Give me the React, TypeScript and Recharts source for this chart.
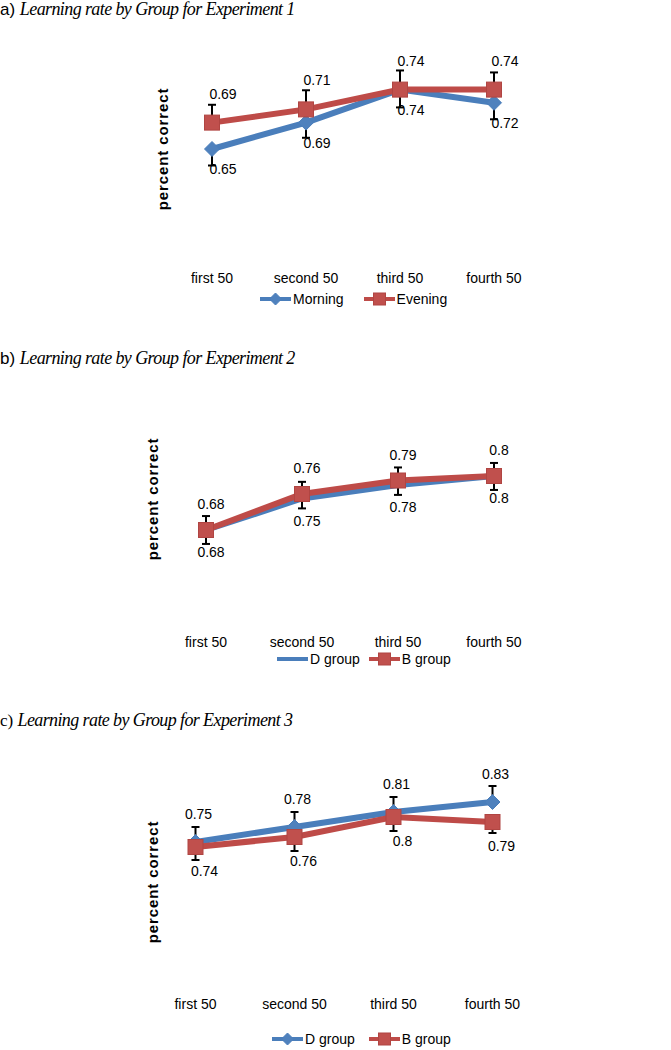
import React from 'react';
import { LineChart, Line, XAxis, YAxis, ErrorBar, LabelList, Legend } from 'recharts';

const categories = ['first 50', 'second 50', 'third 50', 'fourth 50'];

// a) Experiment 1
const exp1Morning = [0.65, 0.69, 0.74, 0.72];
const exp1MorningErr = [0.025, 0.023, 0.027, 0.025];
const exp1Evening = [0.69, 0.71, 0.74, 0.74];
const exp1EveningErr = [0.027, 0.029, 0.029, 0.026];

// b) Experiment 2
const exp2D = [0.68, 0.75, 0.78, 0.8];
const exp2DErr = [0.031, 0.022, 0.022, 0.031];
const exp2B = [0.68, 0.76, 0.79, 0.8];
const exp2BErr = [0.031, 0.027, 0.029, 0.029];

// c) Experiment 3
const exp3D = [0.75, 0.78, 0.81, 0.83];
const exp3DErr = [0.03, 0.03, 0.03, 0.032];
const exp3B = [0.74, 0.76, 0.8, 0.79];
const exp3BErr = [0.026, 0.028, 0.028, 0.022];

const SANS = '"Liberation Sans", Arial, sans-serif';
const SERIF = '"Liberation Serif", "Times New Roman", serif';
const BLUE = '#4A7EBB';
const RED = '#BE4B48';

type Marker = 'diamond' | 'square' | 'none';

interface Series {
  name: string;
  values: number[];
  errors: number[];
  errDir: 'up' | 'down';
  color: string;
  marker: Marker;
  labelDx: number;
  labelDy: number;
}

// builds the row table recharts wants from the small arrays above
const buildRows = (series: Series[]) =>
  categories.map((name, i) => {
    const row: any = { name };
    series.forEach((s, k) => {
      row['v' + k] = s.values[i];
      row['e' + k] = s.errDir === 'up' ? [0, s.errors[i]] : [s.errors[i], 0];
    });
    return row;
  });

const MarkerShape = ({ cx, cy, type, size }: { cx: number; cy: number; type: Marker; size: number }) => {
  const h = size / 2;
  if (type === 'diamond') {
    return (
      <path
        d={`M${cx},${cy - h} L${cx + h},${cy} L${cx},${cy + h} L${cx - h},${cy} Z`}
        fill="#4F81BD"
        stroke={BLUE}
        strokeWidth={1}
      />
    );
  }
  if (type === 'square') {
    return <rect x={cx - h} y={cy - h} width={size} height={size} fill="#C0504D" stroke="#B04542" strokeWidth={1} />;
  }
  return null;
};

const makeLabel = (dx: number, dy: number) => (props: any) => {
  const { x, y, value } = props;
  return (
    <text
      x={x + dx}
      y={y + dy}
      textAnchor="middle"
      dominantBaseline="central"
      fill="#000"
      fontSize={14}
      fontFamily={SANS}
    >
      {value}
    </text>
  );
};

const makeLegend = (series: Series[], gap: number) => () => (
  <div style={{ display: 'flex', alignItems: 'center', fontFamily: SANS, fontSize: 14, color: '#000' }}>
    {series.map((s) => (
      <div key={s.name} style={{ display: 'flex', alignItems: 'center', marginRight: gap }}>
        <svg width={31} height={16}>
          <line x1={0} y1={8} x2={31} y2={8} stroke={s.color} strokeWidth={4} />
          <MarkerShape cx={15.5} cy={8} type={s.marker} size={12} />
        </svg>
        <span style={{ marginLeft: 2 }}>{s.name}</span>
      </div>
    ))}
  </div>
);

interface PanelProps {
  letter: string;
  letterFont: string;
  title: string;
  titleTop: number;
  top: number;
  height: number;
  marginTop: number;
  marginBottom: number;
  plotLeft: number;
  spacing: number;
  domain: [number, number];
  tickMargin: number;
  legendTop: number;
  legendLeft: number;
  legendGap: number;
  yLabelX: number;
  yLabelY: number;
  series: Series[];
}

const Panel: React.FC<PanelProps> = (p) => {
  const rows = buildRows(p.series);
  const pad = p.spacing / 2;
  const plotWidth = p.spacing * 3 + pad * 2;
  return (
    <>
      <div
        style={{
          position: 'absolute',
          left: 0,
          top: p.titleTop,
          whiteSpace: 'nowrap',
          fontFamily: SERIF,
          fontSize: 18,
          lineHeight: '22px',
          color: '#000',
        }}
      >
        <span style={{ fontFamily: p.letterFont, fontSize: 17 }}>{p.letter} </span>
        <i style={{ letterSpacing: -0.6 }}>{p.title}</i>
      </div>
      <div
        style={{
          position: 'absolute',
          left: p.yLabelX - 70,
          top: p.yLabelY - 10,
          width: 140,
          height: 20,
          lineHeight: '20px',
          textAlign: 'center',
          transform: 'rotate(-90deg)',
          fontFamily: SANS,
          fontWeight: 'bold',
          fontSize: 15,
          letterSpacing: 0.9,
          color: '#000',
          whiteSpace: 'nowrap',
        }}
      >
        percent correct
      </div>
      <div style={{ position: 'absolute', left: 0, top: p.top }}>
        <LineChart
          width={671}
          height={p.height}
          data={rows}
          margin={{ top: p.marginTop, right: 671 - p.plotLeft - plotWidth, bottom: p.marginBottom, left: p.plotLeft }}
        >
          <XAxis
            dataKey="name"
            scale="point"
            padding={{ left: pad, right: pad }}
            height={50}
            axisLine={false}
            tickLine={false}
            interval={0}
            tickMargin={p.tickMargin}
            tick={{ fill: '#000', fontSize: 14, fontFamily: SANS }}
          />
          <YAxis hide domain={p.domain} />
          <Legend
            layout="horizontal"
            verticalAlign="middle"
            align="center"
            wrapperStyle={{ top: p.legendTop, left: p.legendLeft, width: 320 }}
            content={makeLegend(p.series, p.legendGap)}
          />
          {p.series.map((s, k) => (
            <Line
              key={s.name}
              dataKey={'v' + k}
              name={s.name}
              stroke={s.color}
              strokeWidth={6}
              isAnimationActive={false}
              dot={
                s.marker === 'none'
                  ? false
                  : (d: any) => <MarkerShape key={'m' + k + '-' + d.index} cx={d.cx} cy={d.cy} type={s.marker} size={15} />
              }
              activeDot={false}
            >
              <ErrorBar dataKey={'e' + k} direction="y" width={4} stroke="#000" strokeWidth={2} />
              <LabelList dataKey={'v' + k} content={makeLabel(s.labelDx, s.labelDy)} />
            </Line>
          ))}
        </LineChart>
      </div>
    </>
  );
};

const App: React.FC = () => {
  return (
    <div style={{ position: 'absolute', left: 0, top: 0, width: 671, height: 1050, background: '#fff', overflow: 'hidden' }}>
      <Panel
        letter="a)"
        letterFont={SANS}
        title="Learning rate by Group for Experiment 1"
        titleTop={-2}
        top={0}
        height={320}
        marginTop={50}
        marginBottom={22}
        plotLeft={165}
        spacing={94}
        domain={[0.5, 0.8]}
        tickMargin={19}
        legendTop={291}
        legendLeft={260}
        legendGap={20}
        yLabelX={163}
        yLabelY={149}
        series={[
          { name: 'Morning', values: exp1Morning, errors: exp1MorningErr, errDir: 'down', color: BLUE, marker: 'diamond', labelDx: 11, labelDy: 20 },
          { name: 'Evening', values: exp1Evening, errors: exp1EveningErr, errDir: 'up', color: RED, marker: 'square', labelDx: 11, labelDy: -29 },
        ]}
      />
      <Panel
        letter="b)"
        letterFont={SANS}
        title="Learning rate by Group for Experiment 2"
        titleTop={347}
        top={380}
        height={300}
        marginTop={51}
        marginBottom={19}
        plotLeft={158}
        spacing={96}
        domain={[0.5, 0.9]}
        tickMargin={20}
        legendTop={271}
        legendLeft={277}
        legendGap={9}
        yLabelX={153}
        yLabelY={499}
        series={[
          { name: 'D group', values: exp2D, errors: exp2DErr, errDir: 'down', color: BLUE, marker: 'none', labelDx: 5, labelDy: 22 },
          { name: 'B group', values: exp2B, errors: exp2BErr, errDir: 'up', color: RED, marker: 'square', labelDx: 5, labelDy: -26 },
        ]}
      />
      <Panel
        letter="c)"
        letterFont={SERIF}
        title="Learning rate by Group for Experiment 3"
        titleTop={709}
        top={740}
        height={310}
        marginTop={27}
        marginBottom={33}
        plotLeft={146}
        spacing={99}
        domain={[0.5, 0.9]}
        tickMargin={26}
        legendTop={291}
        legendLeft={272}
        legendGap={14}
        yLabelX={153}
        yLabelY={882}
        series={[
          { name: 'D group', values: exp3D, errors: exp3DErr, errDir: 'up', color: BLUE, marker: 'diamond', labelDx: 3, labelDy: -28 },
          { name: 'B group', values: exp3B, errors: exp3BErr, errDir: 'down', color: RED, marker: 'square', labelDx: 9, labelDy: 24 },
        ]}
      />
    </div>
  );
};

export default App;
